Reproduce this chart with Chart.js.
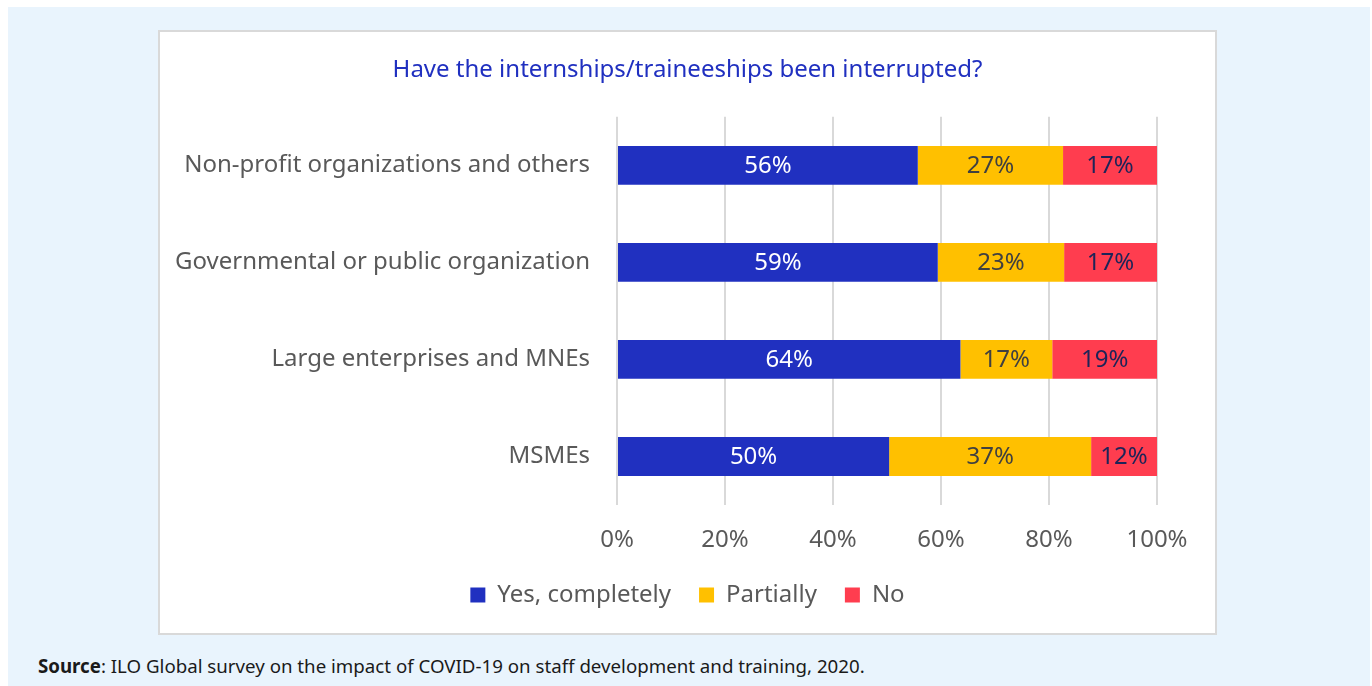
<!DOCTYPE html>
<html>
<head>
<meta charset="utf-8">
<script src="https://cdn.jsdelivr.net/npm/chart.js@4"></script>
<style>
  html, body { margin: 0; padding: 0; background: #fff; }
  body { width: 1372px; height: 686px; position: relative; overflow: hidden; font-family: 'Noto Sans', sans-serif; }
  .panel { position: absolute; left: 8px; top: 7px; width: 1362px; height: 679px; background: #e9f4fd; }
  .box { position: absolute; left: 158px; top: 30px; width: 1055px; height: 601px; background: #fff; border: 2px solid #d9d9d9; }
  .source { position: absolute; left: 38px; top: 653px; font-size: 18.7px; color: #1a1a1a; white-space: nowrap; }
</style>
</head>
<body>
<div class="panel"></div>
<div class="box"><canvas id="chart"></canvas></div>
<div class="source"><b>Source</b>: ILO Global survey on the impact of COVID-19 on staff development and training, 2020.</div>

<script>
const categories = ['Non-profit organizations and others', 'Governmental or public organization', 'Large enterprises and MNEs', 'MSMEs'];
const yesCompletely = [55.7, 59.4, 63.6, 50.4];
const partially = [26.9, 23.4, 17.0, 37.4];
const no = [17.4, 17.2, 19.4, 12.2];
const xTicks = [0, 20, 40, 60, 80, 100];

const textGrey = '#595959';
const font = "'Noto Sans', sans-serif";

/* ── Labels inside the bar segments ── */
const barLabels = {
  id: 'barLabels',
  afterDatasetsDraw: function (chart) {
    const ctx = chart.ctx;
    ctx.save();
    ctx.font = '24px ' + font;
    ctx.textAlign = 'center';
    ctx.textBaseline = 'middle';
    chart.data.datasets.forEach(function (ds, i) {
      const meta = chart.getDatasetMeta(i);
      ctx.fillStyle = ds.labelColor;
      meta.data.forEach(function (bar, j) {
        const p = bar.getCenterPoint();
        ctx.fillText(Math.round(ds.data[j]) + '%', p.x, p.y + 1);
      });
    });
    ctx.restore();
  }
};

new Chart(document.getElementById('chart'), {
  type: 'bar',
  data: {
    labels: categories,
    datasets: [
      { label: 'Yes, completely', data: yesCompletely, backgroundColor: '#2030c0', labelColor: '#ffffff' },
      { label: 'Partially', data: partially, backgroundColor: '#ffc000', labelColor: '#404040' },
      { label: 'No', data: no, backgroundColor: '#ff3d4f', labelColor: '#1c2458' },
    ],
  },
  options: {
    indexAxis: 'y',
    responsive: true,
    maintainAspectRatio: false,
    animation: false,
    categoryPercentage: 1,
    barPercentage: 0.4,
    layout: { padding: { left: 0, right: 0, top: 0, bottom: 16 } },
    plugins: {
      title: {
        display: true,
        text: 'Have the internships/traineeships been interrupted?',
        color: '#2030c0',
        font: { family: font, size: 24, weight: 'normal' },
        padding: { top: 24, bottom: 32 },
      },
      legend: {
        position: 'bottom',
        labels: {
          color: textGrey,
          font: { family: font, size: 24 },
          boxWidth: 15,
          boxHeight: 15,
          padding: 28,
        },
      },
      tooltip: { enabled: false },
    },
    scales: {
      x: {
        stacked: true,
        min: 0,
        max: 100,
        afterBuildTicks: function (scale) {
          scale.ticks = xTicks.map(function (v) { return { value: v }; });
        },
        afterFit: function (scale) { scale.height = 50; },
        ticks: {
          color: textGrey,
          font: { family: font, size: 24 },
          padding: 21,
          callback: function (v) { return v + '%'; },
        },
        grid: { color: '#d9d9d9', lineWidth: 2, drawTicks: false },
        border: { display: false },
      },
      y: {
        stacked: true,
        afterFit: function (scale) { scale.width = 457; },
        ticks: {
          color: textGrey,
          font: { family: font, size: 24 },
          padding: 27,
        },
        grid: { display: false, drawTicks: false },
        border: { display: false },
      },
      // empty right-hand axis: keeps the plot clear of the right edge
      yRight: {
        type: 'category',
        axis: 'y',
        position: 'right',
        afterFit: function (scale) { scale.width = 58; },
        ticks: { display: false },
        grid: { display: false, drawTicks: false },
        border: { display: false },
      },
    },
  },
  plugins: [barLabels],
});
</script>
</body>
</html>
